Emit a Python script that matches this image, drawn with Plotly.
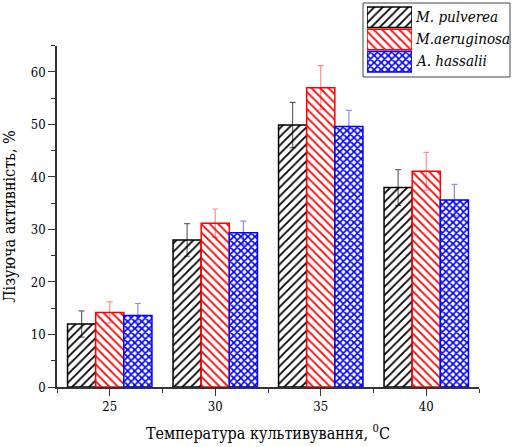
import plotly.graph_objects as go

temps = [25, 30, 35, 40]
series_names = ["M. pulverea", "M.aeruginosa", "A. hassalii"]
pulverea = [12.0, 28.0, 49.9, 38.0]
pulverea_err = [2.5, 3.1, 4.3, 3.4]
aeruginosa = [14.2, 31.2, 57.0, 41.1]
aeruginosa_err = [2.0, 2.7, 4.2, 3.6]
hassalii = [13.6, 29.4, 49.6, 35.6]
hassalii_err = [2.3, 2.2, 3.1, 3.0]

y_ticks = [0, 10, 20, 30, 40, 50, 60]

font_family = "DejaVu Serif Condensed, DejaVu Serif"

W, H = 512, 447

def px_x(p):
    return p / W

def px_y(p):
    return (H - p) / H

styles = [
    dict(color="black", shape="/", err="rgba(0,0,0,0.6)", size=6, solidity=0.3),
    dict(color="red", shape="\\", err="rgba(255,0,0,0.45)", size=6, solidity=0.3),
    dict(color="blue", shape="x", err="rgba(0,0,255,0.45)", size=5, solidity=0.55),
]

fig = go.Figure()
for name, vals, errs, st in zip(series_names,
                                [pulverea, aeruginosa, hassalii],
                                [pulverea_err, aeruginosa_err, hassalii_err],
                                styles):
    marker = dict(
        color="white",
        line=dict(color=st["color"], width=1.5),
        pattern=dict(shape=st["shape"], fgcolor=st["color"], bgcolor="white",
                     size=st["size"], solidity=st["solidity"], fillmode="replace"),
    )
    fig.add_trace(go.Bar(
        x=temps, y=vals, name=name, marker=marker, showlegend=False,
        error_y=dict(type="data", array=errs, visible=True, color=st["err"],
                     thickness=1.2, width=3),
    ))
    # legend swatch drawn as a bar on a small auxiliary axis
    fig.add_trace(go.Bar(
        x=[1], y=[name], orientation="h", marker=marker, showlegend=False,
        xaxis="x2", yaxis="y2", hoverinfo="skip", width=0.92,
    ))

minor_x = [22.5, 27.5, 32.5, 37.5, 42.5]

annotations = []
for name, py in zip(series_names, [17, 39, 61]):
    annotations.append(dict(
        text=name, x=px_x(413), y=px_y(py), xref="paper", yref="paper",
        xanchor="left", yanchor="middle", showarrow=False,
        font=dict(family=font_family, size=15, style="italic", color="black"),
    ))

fig.update_layout(
    width=W, height=H,
    margin=dict(l=0, r=0, t=0, b=0, autoexpand=False),
    paper_bgcolor="white", plot_bgcolor="white",
    barmode="group", bargap=0.2, bargroupgap=0,
    font=dict(family=font_family, size=13, color="black"),
    showlegend=False,
    annotations=annotations,
    shapes=[dict(type="rect", xref="paper", yref="paper",
                 x0=px_x(363), x1=px_x(510), y0=px_y(77), y1=px_y(3),
                 line=dict(color="#444", width=1), layer="below")],
    xaxis=dict(
        domain=[px_x(57), px_x(479)], anchor="y",
        range=[22.5, 42.5], tickvals=temps, ticktext=[str(t) for t in temps],
        showgrid=False, zeroline=False, showline=True, linecolor="#333", linewidth=1.5,
        ticks="outside", ticklen=7, tickcolor="#333", tickwidth=1.2,
        minor=dict(tickvals=minor_x, ticks="outside", ticklen=4, tickcolor="#333"),
        tickfont=dict(family=font_family, size=13),
        title=dict(text="Температура культивування, <sup>0</sup>C",
                   font=dict(family=font_family, size=16), standoff=14),
    ),
    yaxis=dict(
        domain=[px_y(387), px_y(45.7)], anchor="x",
        range=[0, 65], tickvals=y_ticks,
        showgrid=False, zeroline=False, showline=True, linecolor="#333", linewidth=1.5,
        ticks="outside", ticklen=7, tickcolor="#333", tickwidth=1.2,
        minor=dict(dtick=5, tick0=5, ticks="outside", ticklen=4, tickcolor="#333", showgrid=False),
        tickfont=dict(family=font_family, size=13),
        title=dict(text="Лізуюча активність, %", font=dict(family=font_family, size=16), standoff=12),
    ),
    xaxis2=dict(domain=[px_x(367), px_x(412)], range=[0, 1], anchor="y2",
                visible=False, fixedrange=True),
    yaxis2=dict(domain=[px_y(73), px_y(6)], anchor="x2", visible=False,
                categoryorder="array", categoryarray=series_names[::-1],
                fixedrange=True),
)

fig.write_html("out.html")
